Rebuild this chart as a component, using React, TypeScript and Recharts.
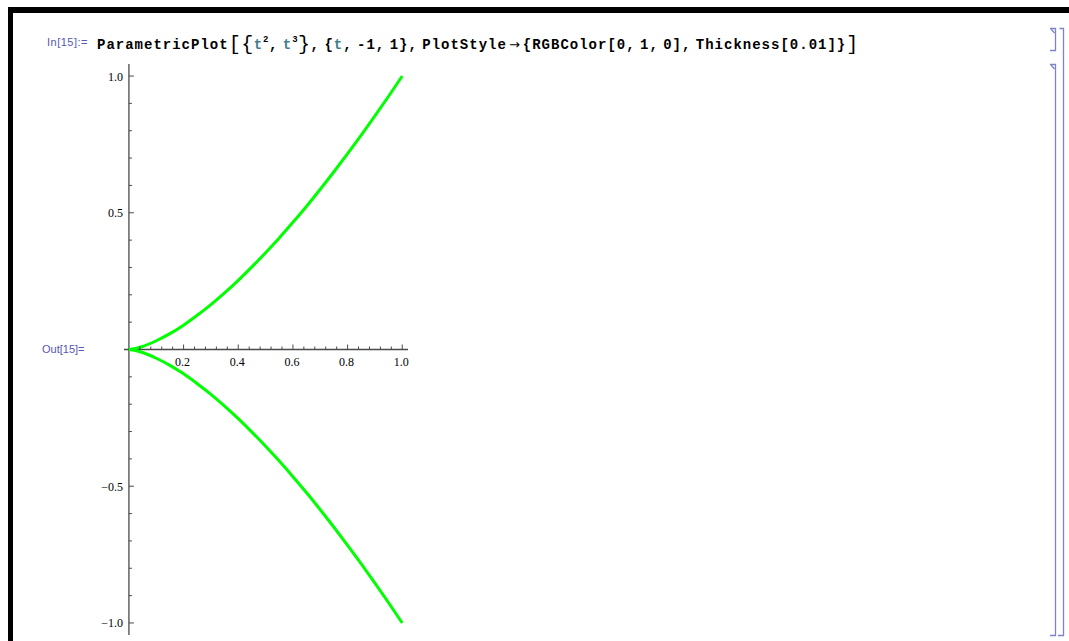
import React from "react";
import { LineChart, Line, XAxis, YAxis, ReferenceLine, ReferenceDot } from "recharts";

const curveX = [0, 0.02, 0.05, 0.1, 0.15, 0.2, 0.25, 0.3, 0.35, 0.4, 0.45, 0.5, 0.55, 0.6, 0.65, 0.7, 0.75, 0.8, 0.85, 0.9, 0.95, 1.0];
const upperY = [0, 0.003, 0.011, 0.032, 0.058, 0.089, 0.125, 0.164, 0.207, 0.253, 0.302, 0.354, 0.408, 0.465, 0.524, 0.586, 0.65, 0.716, 0.784, 0.854, 0.926, 1.0];
const lowerY = [0, -0.003, -0.011, -0.032, -0.058, -0.089, -0.125, -0.164, -0.207, -0.253, -0.302, -0.354, -0.408, -0.465, -0.524, -0.586, -0.65, -0.716, -0.784, -0.854, -0.926, -1.0];

const xMajorTicks = [0.2, 0.4, 0.6, 0.8, 1.0];
const xMinorTicks = [0.04, 0.08, 0.12, 0.16, 0.24, 0.28, 0.32, 0.36, 0.44, 0.48, 0.52, 0.56, 0.64, 0.68, 0.72, 0.76, 0.84, 0.88, 0.92, 0.96];
const yMajorTicks = [1.0, 0.5, -0.5, -1.0];
const yMinorTicks = [0.9, 0.8, 0.7, 0.6, 0.4, 0.3, 0.2, 0.1, -0.1, -0.2, -0.3, -0.4, -0.6, -0.7, -0.8, -0.9];

const rows = curveX.map((x, i) => ({ x, upper: upperY[i], lower: lowerY[i] }));

const AXIS = "#4a4a4a";
const GREEN = "#00ff00";
const BRACKET = "#7f83c8";
const LABEL_FONT = "'Liberation Serif', 'DejaVu Serif', serif";

const fmt = (v: number) => (v < 0 ? "\u2212" : "") + Math.abs(v).toFixed(1);

function NotebookFrame() {
  return (
    <svg width={1069} height={641} style={{ position: "absolute", left: 0, top: 0 }}>
      <rect x={8} y={7} width={1061} height={6} fill="#000" />
      <rect x={8} y={7} width={5} height={634} fill="#000" />
      <g stroke={BRACKET} strokeWidth={1.3} fill="none">
        {/* input cell bracket */}
        <polyline points="1050,28.5 1055.5,28.5 1055.5,50.5 1050,50.5" />
        <polyline points="1051,29 1054.5,33" />
        {/* output cell bracket */}
        <polyline points="1050,64.5 1055.5,64.5 1055.5,635.5 1050,635.5" />
        <polyline points="1051,65 1054.5,69" />
        {/* group bracket */}
        <polyline points="1059.5,28.5 1063.5,28.5 1063.5,635.5 1058,635.5" />
      </g>
    </svg>
  );
}

const codeStyle: React.CSSProperties = {
  position: "absolute",
  left: 97,
  top: 30,
  fontFamily: "'Liberation Mono', 'DejaVu Sans Mono', monospace",
  fontWeight: 700,
  fontSize: 14,
  letterSpacing: 1.0,
  wordSpacing: -5,
  whiteSpace: "nowrap",
  color: "#000",
  lineHeight: "20px",
};
const big: React.CSSProperties = { fontSize: 20, fontWeight: 400, verticalAlign: "-1px", letterSpacing: 0.5 };
const teal: React.CSSProperties = { color: "#3f7f8f" };
const sup: React.CSSProperties = { fontSize: 9, verticalAlign: "7px", letterSpacing: 0.5 };
const arrow: React.CSSProperties = { fontFamily: "'DejaVu Sans', sans-serif", fontWeight: 400, fontSize: 13, margin: "0 2px" };

const promptStyle: React.CSSProperties = {
  position: "absolute",
  fontFamily: "'Liberation Sans', Arial, sans-serif",
  fontSize: 11,
  color: "#5558b0",
  whiteSpace: "nowrap",
};

export default function App() {
  return (
    <div style={{ position: "absolute", left: 0, top: 0, width: 1069, height: 641, background: "#fff", overflow: "hidden" }}>
      <NotebookFrame />
      <div style={{ ...promptStyle, left: 47, top: 36, letterSpacing: 0.5 }}>In[15]:=</div>
      <div style={codeStyle}>
        ParametricPlot<span style={big}>[</span>
        <span style={big}>{"{"}</span>
        <span style={teal}>t</span>
        <span style={sup}>2</span>, <span style={teal}>t</span>
        <span style={sup}>3</span>
        <span style={big}>{"}"}</span>, {"{"}
        <span style={teal}>t</span>, -1, 1{"}"}, PlotStyle<span style={arrow}>{"\u2192"}</span>{"{"}RGBColor[0, 1, 0], Thickness[0.01]{"}"}
        <span style={big}>]</span>
      </div>
      <div style={{ ...promptStyle, left: 42, top: 343 }}>Out[15]=</div>

      <div style={{ position: "absolute", left: 0, top: 0 }}>
        <LineChart width={440} height={641} data={rows} margin={{ top: 64, right: 32, bottom: 6, left: 124 }}>
          <XAxis dataKey="x" type="number" domain={[-0.018, 1.021]} allowDataOverflow hide />
          <YAxis type="number" domain={[-1.044, 1.044]} allowDataOverflow hide />
          <ReferenceLine x={0} stroke={AXIS} strokeWidth={1.3} />
          <ReferenceLine y={0} stroke={AXIS} strokeWidth={1.3} />
          {xMinorTicks.map((v) => (
            <ReferenceDot
              key={`xm${v}`}
              x={v}
              y={0}
              shape={(p: any) => <line x1={p.cx} y1={p.cy} x2={p.cx} y2={p.cy - 3} stroke={AXIS} strokeWidth={1} />}
            />
          ))}
          {xMajorTicks.map((v) => (
            <ReferenceDot
              key={`xM${v}`}
              x={v}
              y={0}
              shape={(p: any) => (
                <g>
                  <line x1={p.cx} y1={p.cy} x2={p.cx} y2={p.cy - 5} stroke={AXIS} strokeWidth={1} />
                  <text x={p.cx - 1} y={p.cy + 16.5} textAnchor="middle" fontFamily={LABEL_FONT} fontSize={12} fill="#000">
                    {fmt(v)}
                  </text>
                </g>
              )}
            />
          ))}
          {yMinorTicks.map((v) => (
            <ReferenceDot
              key={`ym${v}`}
              x={0}
              y={v}
              shape={(p: any) => <line x1={p.cx} y1={p.cy} x2={p.cx + 3} y2={p.cy} stroke={AXIS} strokeWidth={1} />}
            />
          ))}
          {yMajorTicks.map((v) => (
            <ReferenceDot
              key={`yM${v}`}
              x={0}
              y={v}
              shape={(p: any) => (
                <g>
                  <line x1={p.cx} y1={p.cy} x2={p.cx + 5} y2={p.cy} stroke={AXIS} strokeWidth={1} />
                  <text x={p.cx - 6} y={p.cy + 4.5} textAnchor="end" fontFamily={LABEL_FONT} fontSize={12} fill="#000">
                    {fmt(v)}
                  </text>
                </g>
              )}
            />
          ))}
          <Line dataKey="upper" type="monotone" stroke={GREEN} strokeWidth={3} dot={false} isAnimationActive={false} />
          <Line dataKey="lower" type="monotone" stroke={GREEN} strokeWidth={3} dot={false} isAnimationActive={false} />
        </LineChart>
      </div>
    </div>
  );
}
